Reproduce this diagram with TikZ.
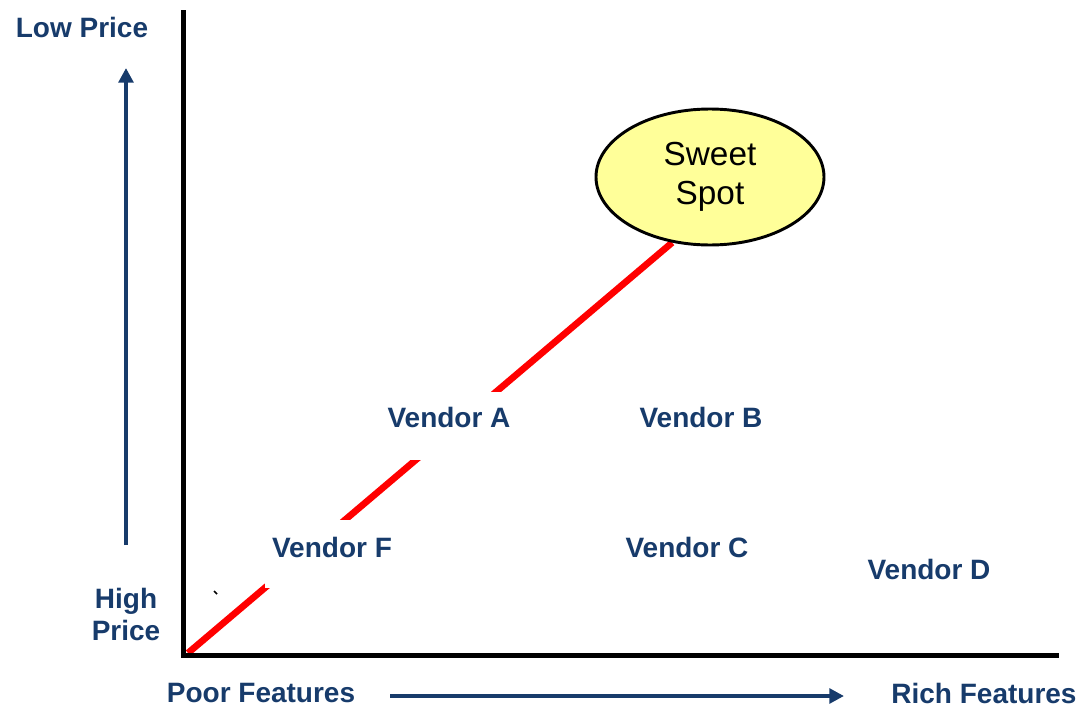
\documentclass[tikz,border=0pt]{standalone}
\usepackage{fontspec}
\setmainfont{Liberation Sans}
\usetikzlibrary{arrows.meta,shapes.geometric,backgrounds}
\definecolor{navy}{HTML}{173B6B}
\definecolor{spotyellow}{HTML}{FFFF99}
\definecolor{linered}{HTML}{FF0000}
\begin{document}
\begin{tikzpicture}[x={(0.75pt,0)},y={(0,-0.75pt)},
  lbl/.style={text=navy,font=\fontsize{21}{24}\selectfont\bfseries,inner sep=0pt},
  vendor/.style={lbl,fill=white,inner xsep=5pt,anchor=base},
  axis/.style={black,line width=3.75pt},
  dir/.style={navy,line width=3pt,-{Triangle[length=11pt,width=11pt]}},
  spot/.style={ellipse,draw=black,line width=2.2pt,fill=spotyellow,minimum width=171pt,minimum height=102pt,inner sep=0pt,align=center,font=\fontsize{25}{29}\selectfont,text=black}
]
\useasboundingbox (0,0) rectangle (1083,707);
% axes
\coordinate (ytop) at (183,12);
\coordinate (orig) at (183,655);
\coordinate (xend) at (1056,655);
\draw[axis,line cap=rect] (ytop) -- (orig) -- (xend);
% sweet spot
\node[spot] (sweet) at (710,177) {Sweet\\Spot};
\coordinate (lstart) at (188,653);
\begin{scope}[on background layer]
\draw[linered,line width=5pt] (lstart) -- (sweet.240);
\end{scope}
% vendor labels
\node[vendor,text height=27.75pt,text depth=23.25pt] (vf) at (332,557) {Vendor F};
\node[vendor,text height=26.25pt,text depth=24.75pt] (va) at (449,427) {Vendor A};
\node[vendor] (vb) at (701,427) {Vendor B};
\node[vendor] (vc) at (687,557) {Vendor C};
\node[vendor] (vd) at (929,579) {Vendor D};
% axis labels
\node[lbl] (lowp) at (82,27) {Low Price};
\node[lbl,align=center] (highp) at (126,614) {High\\Price};
\node[lbl] (poor) at (261,693) {Poor Features};
\node[lbl] (rich) at (984,693) {Rich Features};
% direction arrows
\coordinate (ya) at (126,545);
\coordinate (yb) at (126,68);
\draw[dir] (ya) -- (yb);
\coordinate (xa) at (390,696);
\coordinate (xb) at (844,696);
\draw[dir] (xa) -- (xb);
% stray mark
\coordinate (m1) at (214,591);
\coordinate (m2) at (217,594);
\draw[black,line width=1.2pt] (m1) -- (m2);
\end{tikzpicture}
\end{document}
